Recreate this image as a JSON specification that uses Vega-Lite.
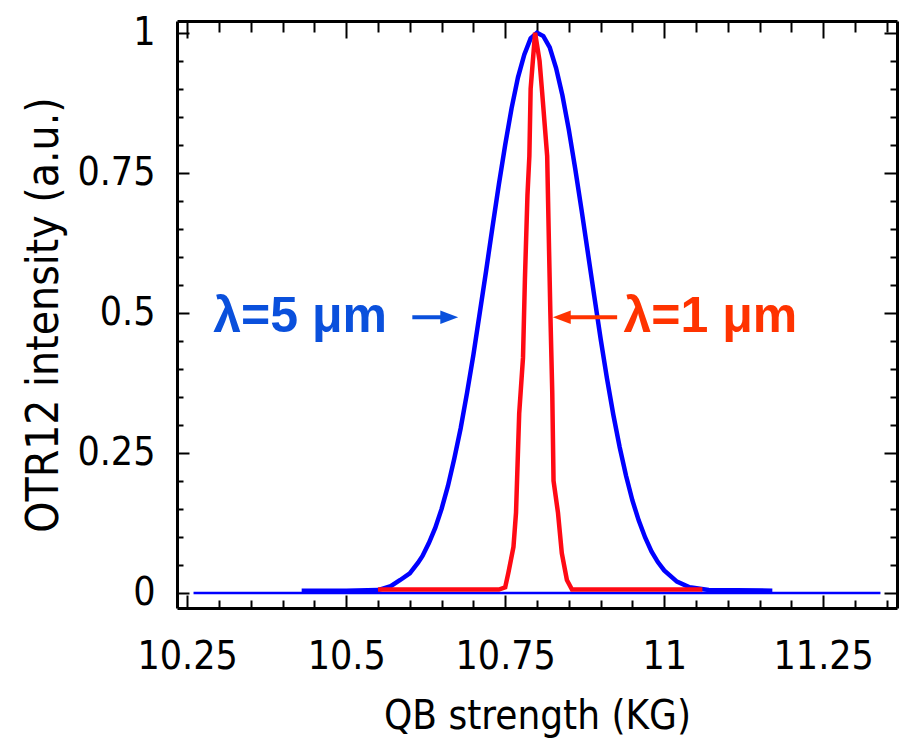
{
  "$schema": "https://vega.github.io/schema/vega-lite/v6.json",
  "width": 720,
  "height": 587,
  "autosize": "none",
  "padding": {"left": 177, "top": 21, "right": 9, "bottom": 145},
  "background": "white",
  "config": {
    "view": {"stroke": null},
    "axis": {
      "domainColor": "black",
      "domainWidth": 3,
      "tickColor": "black",
      "tickWidth": 2,
      "grid": false,
      "labelFont": "DejaVu Sans Condensed, Liberation Sans Narrow, sans-serif",
      "labelColor": "black",
      "labelFontSize": 39,
      "labelOverlap": false,
      "labelFlush": false,
      "titleFont": "DejaVu Sans Condensed, Liberation Sans Narrow, sans-serif",
      "titleFontWeight": "normal",
      "titleColor": "black"
    }
  },
  "datasets": {
    "curves": [
      {"series": "5 μm baseline", "x": 10.26, "y": 0},
      {"series": "5 μm baseline", "x": 11.34, "y": 0},
      {"series": "5 μm", "x": 10.43, "y": 0.004},
      {"series": "5 μm", "x": 10.5, "y": 0.004},
      {"series": "5 μm", "x": 10.55, "y": 0.005},
      {"series": "5 μm", "x": 10.57, "y": 0.012},
      {"series": "5 μm", "x": 10.585, "y": 0.023},
      {"series": "5 μm", "x": 10.6, "y": 0.035},
      {"series": "5 μm", "x": 10.613, "y": 0.054},
      {"series": "5 μm", "x": 10.62, "y": 0.066},
      {"series": "5 μm", "x": 10.63, "y": 0.089},
      {"series": "5 μm", "x": 10.64, "y": 0.116},
      {"series": "5 μm", "x": 10.65, "y": 0.15},
      {"series": "5 μm", "x": 10.66, "y": 0.191},
      {"series": "5 μm", "x": 10.67, "y": 0.24},
      {"series": "5 μm", "x": 10.68, "y": 0.294},
      {"series": "5 μm", "x": 10.69, "y": 0.357},
      {"series": "5 μm", "x": 10.7, "y": 0.425},
      {"series": "5 μm", "x": 10.71, "y": 0.5},
      {"series": "5 μm", "x": 10.72, "y": 0.575},
      {"series": "5 μm", "x": 10.73, "y": 0.653},
      {"series": "5 μm", "x": 10.74, "y": 0.729},
      {"series": "5 μm", "x": 10.75, "y": 0.8},
      {"series": "5 μm", "x": 10.76, "y": 0.865},
      {"series": "5 μm", "x": 10.77, "y": 0.92},
      {"series": "5 μm", "x": 10.78, "y": 0.961},
      {"series": "5 μm", "x": 10.79, "y": 0.99},
      {"series": "5 μm", "x": 10.8, "y": 1.0},
      {"series": "5 μm", "x": 10.81, "y": 0.994},
      {"series": "5 μm", "x": 10.82, "y": 0.974},
      {"series": "5 μm", "x": 10.83, "y": 0.937},
      {"series": "5 μm", "x": 10.84, "y": 0.888},
      {"series": "5 μm", "x": 10.85, "y": 0.827},
      {"series": "5 μm", "x": 10.86, "y": 0.758},
      {"series": "5 μm", "x": 10.87, "y": 0.684},
      {"series": "5 μm", "x": 10.88, "y": 0.607},
      {"series": "5 μm", "x": 10.89, "y": 0.53},
      {"series": "5 μm", "x": 10.9, "y": 0.454},
      {"series": "5 μm", "x": 10.91, "y": 0.383},
      {"series": "5 μm", "x": 10.92, "y": 0.318},
      {"series": "5 μm", "x": 10.93, "y": 0.26},
      {"series": "5 μm", "x": 10.94, "y": 0.209},
      {"series": "5 μm", "x": 10.95, "y": 0.165},
      {"series": "5 μm", "x": 10.96, "y": 0.129},
      {"series": "5 μm", "x": 10.97, "y": 0.099},
      {"series": "5 μm", "x": 10.98, "y": 0.074},
      {"series": "5 μm", "x": 10.99, "y": 0.055},
      {"series": "5 μm", "x": 11.0, "y": 0.04},
      {"series": "5 μm", "x": 11.02, "y": 0.02},
      {"series": "5 μm", "x": 11.04, "y": 0.01},
      {"series": "5 μm", "x": 11.07, "y": 0.005},
      {"series": "5 μm", "x": 11.17, "y": 0.004},
      {"series": "1 μm", "x": 10.55, "y": 0.006},
      {"series": "1 μm", "x": 10.74, "y": 0.006},
      {"series": "1 μm", "x": 10.75, "y": 0.01},
      {"series": "1 μm", "x": 10.755, "y": 0.036},
      {"series": "1 μm", "x": 10.763, "y": 0.082},
      {"series": "1 μm", "x": 10.767, "y": 0.143},
      {"series": "1 μm", "x": 10.772, "y": 0.32},
      {"series": "1 μm", "x": 10.778, "y": 0.42},
      {"series": "1 μm", "x": 10.781, "y": 0.56},
      {"series": "1 μm", "x": 10.785, "y": 0.71},
      {"series": "1 μm", "x": 10.788, "y": 0.78},
      {"series": "1 μm", "x": 10.79, "y": 0.9},
      {"series": "1 μm", "x": 10.797, "y": 1.0},
      {"series": "1 μm", "x": 10.804, "y": 0.95},
      {"series": "1 μm", "x": 10.808, "y": 0.895},
      {"series": "1 μm", "x": 10.816, "y": 0.78},
      {"series": "1 μm", "x": 10.819, "y": 0.61},
      {"series": "1 μm", "x": 10.821, "y": 0.5},
      {"series": "1 μm", "x": 10.824, "y": 0.357},
      {"series": "1 μm", "x": 10.826, "y": 0.2},
      {"series": "1 μm", "x": 10.833, "y": 0.143},
      {"series": "1 μm", "x": 10.839, "y": 0.071},
      {"series": "1 μm", "x": 10.847, "y": 0.023},
      {"series": "1 μm", "x": 10.855, "y": 0.006},
      {"series": "1 μm", "x": 11.06, "y": 0.006}
    ],
    "notes": [
      {"label": "λ=5 μm", "textx": 10.291, "start": 10.604, "tip": 10.676, "head": 10.662, "y": 0.492},
      {"label": "λ=1 μm", "textx": 10.936, "start": 10.926, "tip": 10.825, "head": 10.839, "y": 0.492}
    ]
  },
  "layer": [
    {
      "data": {"name": "curves"},
      "transform": [{"filter": "datum.series == '5 μm baseline'"}],
      "mark": {"type": "line", "color": "#0000ff", "strokeWidth": 2.5, "clip": true},
      "encoding": {
        "x": {
          "field": "x", "type": "quantitative",
          "scale": {"domain": [10.234, 11.366], "nice": false, "zero": false},
          "axis": {
            "orient": "bottom",
            "values": [10.25,10.3,10.35,10.4,10.45,10.5,10.55,10.6,10.65,10.7,10.75,10.8,10.85,10.9,10.95,11,11.05,11.1,11.15,11.2,11.25,11.3,11.35],
            "labelExpr": "abs(datum.value*4 - round(datum.value*4)) < 0.001 ? format(datum.value, '.2~f') : ''",
            "tickSize": {"condition": {"test": "abs(datum.value*4 - round(datum.value*4)) < 0.001", "value": -13}, "value": -8},
            "labelPadding": 42,
            "title": "QB strength (KG)",
            "titleFontSize": 40,
            "titlePadding": 15
          }
        },
        "y": {
          "field": "y", "type": "quantitative",
          "scale": {"domain": [-0.027, 1.021], "nice": false, "zero": false},
          "axis": {
            "orient": "left",
            "values": [0,0.05,0.1,0.15,0.2,0.25,0.3,0.35,0.4,0.45,0.5,0.55,0.6,0.65,0.7,0.75,0.8,0.85,0.9,0.95,1],
            "labelExpr": "abs(datum.value*4 - round(datum.value*4)) < 0.001 ? format(datum.value, '.2~f') : ''",
            "tickSize": {"condition": {"test": "abs(datum.value*4 - round(datum.value*4)) < 0.001", "value": -12}, "value": -6},
            "labelPadding": 34,
            "title": "OTR12 intensity (a.u.)",
            "titleFontSize": 44,
            "titlePadding": 10
          }
        }
      }
    },
    {
      "data": {"name": "curves"},
      "transform": [{"filter": "datum.series == '5 μm'"}],
      "mark": {"type": "line", "color": "#0000ff", "strokeWidth": 4.5, "clip": true},
      "encoding": {
        "x": {
          "field": "x", "type": "quantitative",
          "axis": {
            "orient": "top",
            "values": [10.25,10.3,10.35,10.4,10.45,10.5,10.55,10.6,10.65,10.7,10.75,10.8,10.85,10.9,10.95,11,11.05,11.1,11.15,11.2,11.25,11.3,11.35],
            "labels": false,
            "tickSize": {"condition": {"test": "abs(datum.value*4 - round(datum.value*4)) < 0.001", "value": -17}, "value": -11},
            "title": null
          }
        },
        "y": {
          "field": "y", "type": "quantitative",
          "axis": {
            "orient": "right",
            "values": [0,0.05,0.1,0.15,0.2,0.25,0.3,0.35,0.4,0.45,0.5,0.55,0.6,0.65,0.7,0.75,0.8,0.85,0.9,0.95,1],
            "labels": false,
            "tickSize": {"condition": {"test": "abs(datum.value*4 - round(datum.value*4)) < 0.001", "value": -13}, "value": -7},
            "title": null
          }
        }
      }
    },
    {
      "data": {"name": "curves"},
      "transform": [{"filter": "datum.series == '1 μm'"}],
      "mark": {"type": "line", "color": "#ff0a14", "strokeWidth": 4.5, "clip": true},
      "encoding": {
        "x": {"field": "x", "type": "quantitative", "axis": null},
        "y": {"field": "y", "type": "quantitative", "axis": null}
      }
    },
    {
      "data": {"name": "notes"},
      "mark": {"type": "rule", "strokeWidth": 4},
      "encoding": {
        "x": {"field": "start", "type": "quantitative", "axis": null},
        "x2": {"field": "head"},
        "y": {"field": "y", "type": "quantitative", "axis": null},
        "color": {"field": "label", "type": "nominal", "scale": {"domain": ["λ=5 μm", "λ=1 μm"], "range": ["#0a50dc", "#ff3300"]}, "legend": null}
      }
    },
    {
      "data": {"name": "notes"},
      "transform": [{"filter": "datum.label == 'λ=5 μm'"}],
      "mark": {"type": "point", "shape": "M-1,-0.75L1,0L-1,0.75Z", "size": 320, "filled": true, "opacity": 1},
      "encoding": {
        "x": {"field": "head", "type": "quantitative", "axis": null},
        "y": {"field": "y", "type": "quantitative", "axis": null},
        "color": {"field": "label", "type": "nominal", "legend": null}
      }
    },
    {
      "data": {"name": "notes"},
      "transform": [{"filter": "datum.label == 'λ=1 μm'"}],
      "mark": {"type": "point", "shape": "M1,-0.75L-1,0L1,0.75Z", "size": 320, "filled": true, "opacity": 1},
      "encoding": {
        "x": {"field": "head", "type": "quantitative", "axis": null},
        "y": {"field": "y", "type": "quantitative", "axis": null},
        "color": {"field": "label", "type": "nominal", "legend": null}
      }
    },
    {
      "data": {"name": "notes"},
      "mark": {"type": "text", "align": "left", "baseline": "middle", "font": "Liberation Sans, Arial, sans-serif", "fontSize": 50, "fontWeight": "bold"},
      "encoding": {
        "x": {"field": "textx", "type": "quantitative", "axis": null},
        "y": {"field": "y", "type": "quantitative", "axis": null},
        "text": {"field": "label"},
        "color": {"field": "label", "type": "nominal", "legend": null}
      }
    }
  ],
  "resolve": {"axis": {"x": "independent", "y": "independent"}}
}
